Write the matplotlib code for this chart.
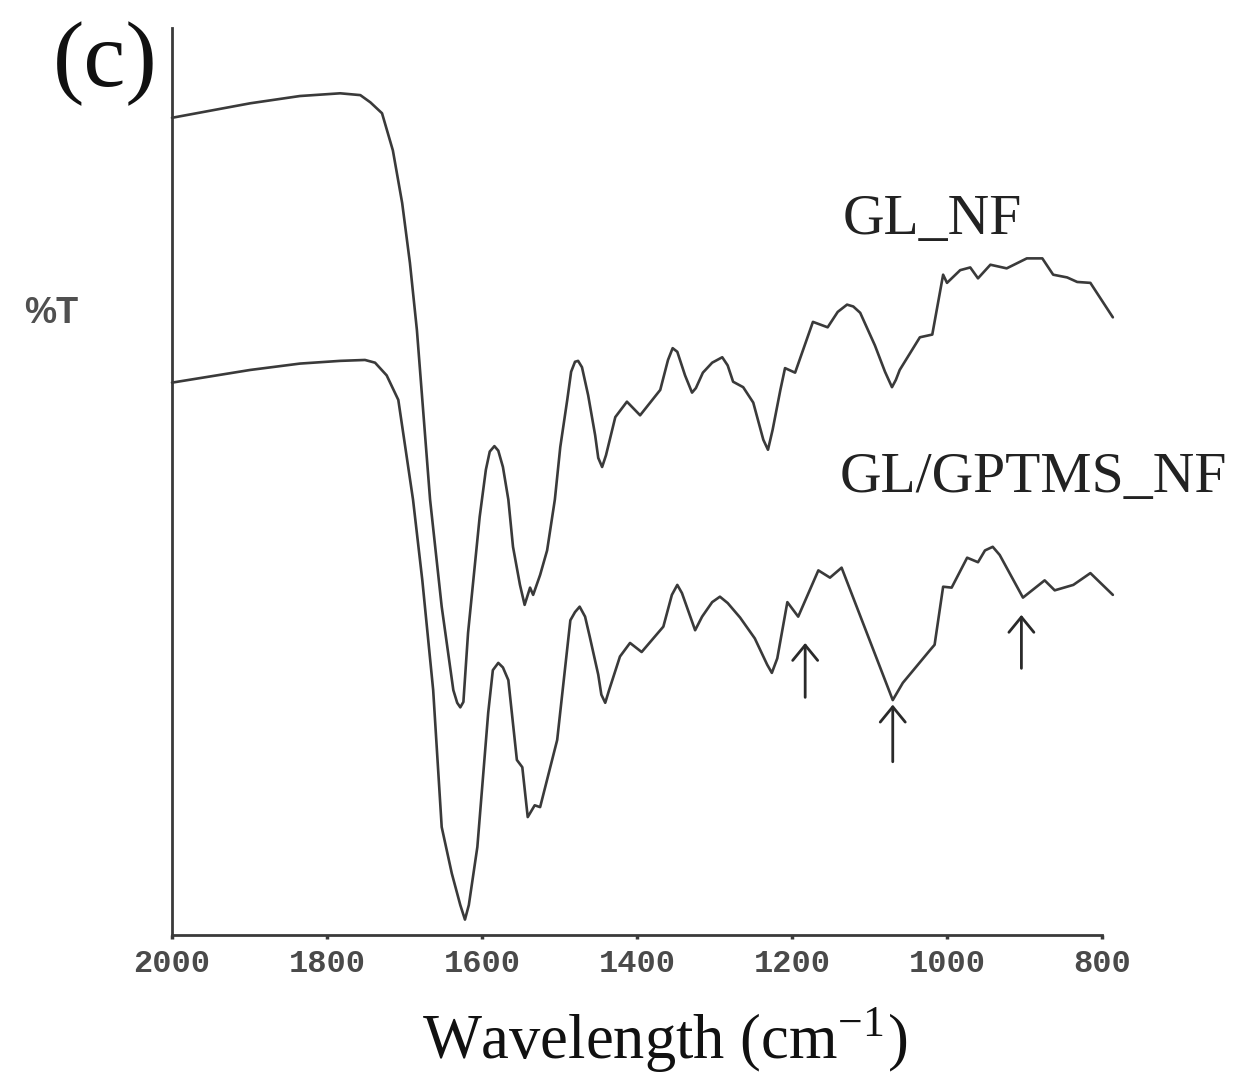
import matplotlib
matplotlib.use("Agg")
import matplotlib.pyplot as plt

plt.rcParams['mathtext.fontset'] = 'stix'

# GL_NF spectrum (wavenumber cm-1, %T arbitrary units)
gl_nf_wn = [2000, 1899, 1835, 1783, 1757, 1744, 1729, 1715, 1703, 1693, 1684, 1677,
            1667, 1652, 1637, 1632, 1628, 1624, 1618, 1603, 1595, 1590, 1584, 1579,
            1573, 1566, 1560, 1551, 1545, 1538, 1534, 1525, 1516, 1506, 1499, 1490,
            1485, 1480, 1476, 1471, 1463, 1454, 1450, 1445, 1440, 1428, 1413, 1396,
            1370, 1360, 1354, 1348, 1338, 1329, 1324, 1315, 1303, 1290, 1283, 1276,
            1263, 1250, 1237, 1231, 1225, 1215, 1209, 1196, 1173, 1154, 1141, 1129,
            1121, 1112, 1093, 1080, 1071, 1066, 1061, 1035, 1019, 1005, 1000, 983,
            970, 960, 944, 923, 897, 877, 863, 845, 832, 815, 786]
gl_nf_t = [90.1, 91.7, 92.5, 92.8, 92.6, 91.8, 90.6, 86.5, 80.7, 74.1, 66.7, 59.0,
           48.0, 36.2, 27.0, 25.6, 25.1, 25.7, 33.3, 46.1, 51.3, 53.3, 53.9, 53.4,
           51.6, 48.0, 42.8, 38.6, 36.4, 38.3, 37.5, 39.7, 42.4, 48.0, 53.8, 59.0,
           62.1, 63.2, 63.3, 62.6, 59.5, 55.1, 52.6, 51.6, 52.9, 57.1, 58.8, 57.3,
           60.1, 63.4, 64.7, 64.3, 61.7, 59.8, 60.3, 62.0, 63.1, 63.7, 62.8, 61.0,
           60.4, 58.7, 54.6, 53.5, 55.7, 60.1, 62.5, 62.0, 67.6, 67.0, 68.7, 69.5,
           69.3, 68.6, 65.0, 62.1, 60.4, 61.2, 62.3, 65.9, 66.2, 72.8, 71.9, 73.3,
           73.6, 72.4, 73.9, 73.5, 74.6, 74.6, 72.8, 72.5, 72.0, 71.9, 68.1]

# GL/GPTMS_NF spectrum
gptms_wn = [2000, 1899, 1835, 1783, 1751, 1738, 1723, 1708, 1689, 1677, 1663, 1652,
            1639, 1628, 1622, 1617, 1606, 1592, 1586, 1579, 1573, 1566, 1555, 1548,
            1541, 1532, 1525, 1503, 1486, 1480, 1474, 1467, 1461, 1450, 1446, 1441,
            1436, 1422, 1409, 1394, 1366, 1355, 1348, 1342, 1325, 1316, 1303, 1293,
            1283, 1267, 1248, 1232, 1226, 1219, 1206, 1192, 1166, 1151, 1136, 1070,
            1057, 1022, 1016, 1005, 994, 974, 960, 951, 941, 932, 902, 874, 861,
            837, 815, 786]
gptms_t = [60.9, 62.3, 63.0, 63.3, 63.4, 63.1, 61.7, 59.0, 48.0, 39.1, 27.0, 11.9,
           6.8, 3.3, 1.7, 3.3, 9.7, 24.5, 29.2, 30.0, 29.5, 28.1, 19.3, 18.5,
           13.0, 14.3, 14.1, 21.5, 34.7, 35.6, 36.2, 35.1, 32.9, 28.7, 26.5, 25.6,
           27.0, 30.7, 32.2, 31.2, 34.0, 37.5, 38.6, 37.7, 33.6, 35.1, 36.7, 37.3,
           36.6, 35.0, 32.7, 29.8, 28.9, 30.5, 36.7, 35.1, 40.2, 39.4, 40.5, 25.9,
           27.8, 31.4, 32.0, 38.4, 38.3, 41.6, 41.1, 42.4, 42.8, 41.9, 37.2, 39.1, 38.0,
           38.6, 39.9, 37.5]

# Arrows marking new bands (x, tail %T, head %T)
arrow_x = [1183, 1070, 904]
arrow_tail = [26.2, 19.1, 29.4]
arrow_head = [32.2, 25.4, 35.3]

xticks = [2000, 1800, 1600, 1400, 1200, 1000, 800]

W, H = 1235, 1075
fig = plt.figure(figsize=(W / 100, H / 100), dpi=100)
ax = fig.add_axes([172 / W, (H - 935) / H, 930 / W, (935 - 28) / H])

lc = '#3a3a3a'
ax.plot(gl_nf_wn, gl_nf_t, color=lc, lw=1.9, clip_on=False,
        solid_joinstyle='round', solid_capstyle='round')
ax.plot(gptms_wn, gptms_t, color=lc, lw=1.9, clip_on=False,
        solid_joinstyle='round', solid_capstyle='round')

for x, t0, t1 in zip(arrow_x, arrow_tail, arrow_head):
    ax.annotate('', xy=(x, t1), xytext=(x, t0),
                arrowprops=dict(arrowstyle='->,head_length=0.55,head_width=0.45',
                                mutation_scale=20, color='#2a2a2a', lw=2.0,
                                shrinkA=0, shrinkB=0))

ax.set_xlim(2000, 800)
ax.set_ylim(0, 100)
ax.set_xticks(xticks)
ax.set_xticklabels([str(v) for v in xticks], family='Liberation Mono',
                   fontweight='bold', fontsize=23, color='#4a4a4a')
ax.set_yticks([])
for s in ['top', 'right']:
    ax.spines[s].set_visible(False)
for s in ['left', 'bottom']:
    ax.spines[s].set_color('#3a3a3a')
    ax.spines[s].set_linewidth(2.0)
ax.tick_params(axis='x', direction='out', length=3, width=2.5, color='#3a3a3a', pad=7)

serif = 'Liberation Serif'
fig.text(105 / W, 1 - 64 / H, '(c)', family=serif, fontsize=68,
         ha='center', va='center', color='#111111')
fig.text(51 / W, 1 - 314 / H, '%T', family='Liberation Sans', fontweight='bold',
         fontsize=26, ha='center', va='center', color='#505050')
fig.text(843 / W, 1 - 220 / H, 'GL_NF', family=serif, fontsize=41.5,
         ha='left', va='center', color='#222222')
fig.text(840 / W, 1 - 478 / H, 'GL/GPTMS_NF', family=serif, fontsize=41.5,
         ha='left', va='center', color='#222222')
fig.text(665 / W, 1 - 1040 / H, 'Wavelength (cm$^{\\mathregular{-1}}$)', family=serif,
         fontsize=45, ha='center', va='center', color='#111111')

fig.savefig('out.png', dpi=100, facecolor='white')
